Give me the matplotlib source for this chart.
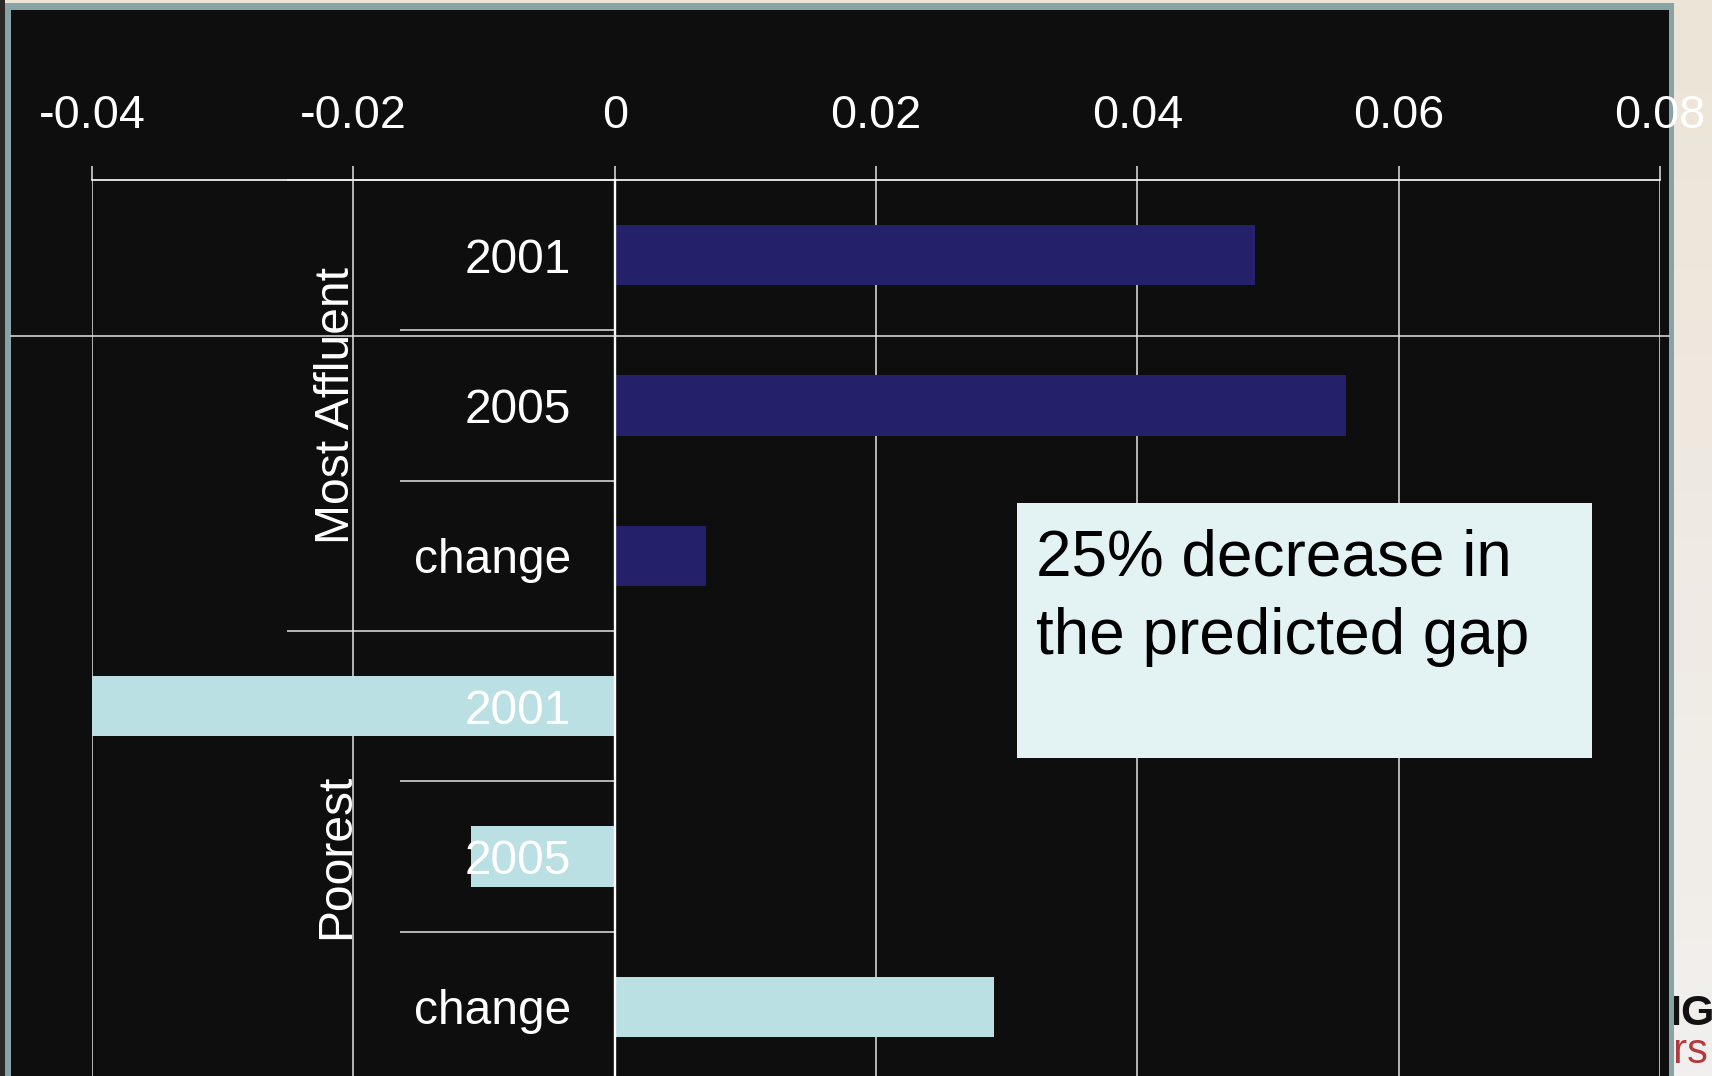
import matplotlib
matplotlib.use("Agg")
import matplotlib.pyplot as plt
import numpy as np
from matplotlib.patches import Rectangle
from matplotlib.lines import Line2D
from matplotlib.colors import LinearSegmentedColormap

plt.rcParams['font.family'] = ['Liberation Sans', 'DejaVu Sans']

# ---- data -------------------------------------------------------------
groups = ['Most Affluent', 'Poorest']
periods = ['2001', '2005', 'change']
affluent_values = [0.049, 0.056, 0.007]
poorest_values = [-0.040, -0.011, 0.029]
x_ticks = [-0.04, -0.02, 0.0, 0.02, 0.04, 0.06, 0.08]
x_tick_labels = ['-0.04', '-0.02', '0', '0.02', '0.04', '0.06', '0.08']
note_lines = ['25% decrease in', 'the predicted gap']

# ---- styling ----------------------------------------------------------
NAVY = '#24206a'
LIGHT = '#bae0e3'
PANEL = '#0e0e0e'
FRAME = '#87a3a6'
GRID = '#e4e4e4'

W, H = 1712, 1076
fig = plt.figure(figsize=(W / 100, H / 100), dpi=100)


def fx(px):
    return px / W


def fy(py):
    return 1 - py / H


# slide background with a soft vertical gradient
bg = fig.add_axes([0, 0, 1, 1], zorder=-20)
bg.axis('off')
cmap = LinearSegmentedColormap.from_list('slide', ['#ece4d6', '#f2f0ee'])
bg.imshow(np.linspace(0, 1, 256).reshape(-1, 1), aspect='auto', cmap=cmap,
          extent=[0, 1, 0, 1])

# partial logo peeking out at the lower right
fig.text(fx(1650), fy(1025), 'NG', fontsize=31, fontweight='bold',
         color='#111111', va='baseline', ha='left', zorder=-8)
fig.text(fx(1650), fy(1063), 'ers', fontsize=30, color='#b23a3e',
         va='baseline', ha='left', zorder=-8)

# dark slide panel with its frame
fig.add_artist(Rectangle((0, 0), fx(5), 1, transform=fig.transFigure,
                         facecolor='#2b2727', edgecolor='none', zorder=-6))
fig.add_artist(Rectangle((fx(5), 0), fx(1674.3 - 5), fy(3.3),
                         transform=fig.transFigure, facecolor=FRAME,
                         edgecolor='none', zorder=-5))
fig.add_artist(Rectangle((fx(11), 0), fx(1669 - 11), fy(9.5),
                         transform=fig.transFigure, facecolor=PANEL,
                         edgecolor='none', zorder=-4))

# ---- chart axes -------------------------------------------------------
AX_L, AX_R, AX_T, AX_B = 92.1, 1659.9, 180.0, 1082.0
ax = fig.add_axes([fx(AX_L), fy(AX_B), fx(AX_R - AX_L), (AX_B - AX_T) / H])
ax.set_facecolor('none')


def ax_x(px):
    return (px - AX_L) / (AX_R - AX_L)


n = len(periods)
ax.barh(np.arange(n), affluent_values, height=0.4, color=NAVY, zorder=2)
ax.barh(np.arange(n, 2 * n), poorest_values, height=0.4, color=LIGHT, zorder=2)

ax.set_xticks(x_ticks)
ax.set_xticklabels(x_tick_labels)
ax.xaxis.tick_top()
ax.tick_params(axis='x', direction='out', length=10, width=1.1, color=GRID,
               labelsize=33.7, labelcolor='white', pad=20.5)
ax.tick_params(axis='y', left=False, right=False, labelleft=False)
ax.xaxis.grid(True, color=GRID, linewidth=1.1)
ax.set_axisbelow(True)

for side in ('bottom', 'right'):
    ax.spines[side].set_visible(False)
ax.spines['top'].set_color('#eeeeee')
ax.spines['top'].set_linewidth(1.3)
ax.spines['left'].set_position(('data', 0))
ax.spines['left'].set_color('white')
ax.spines['left'].set_linewidth(1.7)
ax.spines['left'].set_zorder(3)

ytrans = ax.get_yaxis_transform()

# category labels
for k in range(2 * n):
    ax.text(ax_x(571), k, periods[k % n], transform=ytrans, ha='right',
            va='center_baseline', fontsize=34.5, color='white', zorder=5)

# group labels
for g, name in enumerate(groups):
    ax.text(ax_x(349), g * n + (n - 1) / 2, name, transform=ytrans,
            rotation=90, rotation_mode='anchor', ha='center', va='baseline',
            fontsize=34.6, color='white', zorder=5)

# category and group dividers
inner = [k + 0.5 for k in range(2 * n - 1) if (k + 1) % n != 0]
outer = [-0.5] + [g * n - 0.5 for g in range(1, len(groups))]
ax.hlines(inner, ax_x(400), ax_x(614.7), transform=ytrans, colors=GRID,
          linewidth=1.1, zorder=1, clip_on=False)
ax.hlines(outer, ax_x(287), ax_x(614.7), transform=ytrans, colors=GRID,
          linewidth=1.1, zorder=1, clip_on=False)

ax.set_xlim(x_ticks[0], x_ticks[-1])
ax.set_ylim(2 * n - 0.5, -0.5)

# slide rule line across the panel
fig.add_artist(Line2D([fx(11), fx(1669)], [fy(335.5), fy(335.5)],
                      transform=fig.transFigure, color=GRID, linewidth=1.1,
                      zorder=1))

# annotation box
fig.add_artist(Rectangle((fx(1016.5), fy(757.7)), fx(1591.8 - 1016.5),
                         (757.7 - 503.3) / H, transform=fig.transFigure,
                         facecolor='#e3f3f3', edgecolor='none', zorder=3))
fig.text(fx(1036), fy(575), note_lines[0], fontsize=46, color='black',
         ha='left', va='baseline', zorder=4)
fig.text(fx(1036), fy(654), note_lines[1], fontsize=46, color='black',
         ha='left', va='baseline', zorder=4)

fig.savefig('out.png', dpi=100, facecolor=fig.get_facecolor())
